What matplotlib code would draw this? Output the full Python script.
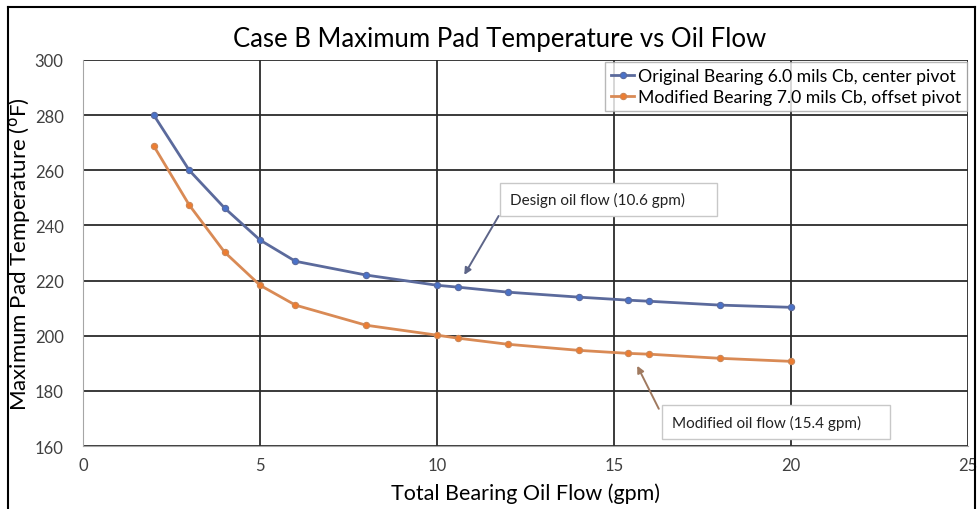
import matplotlib.pyplot as plt
from matplotlib.lines import Line2D
from matplotlib.patches import Rectangle

plt.rcParams['font.family'] = ['Lato', 'DejaVu Sans']

# oil flow (gpm)
flow = [2, 3, 4, 5, 6, 8, 10, 10.6, 12, 14, 15.4, 16, 18, 20]
# maximum pad temperature (F)
orig_temp = [280, 260, 246.3, 234.7, 227, 222, 218.3, 217.6, 215.8, 214, 212.9, 212.5, 211.1, 210.3]
mod_temp = [268.8, 247.4, 230.3, 218.3, 211.1, 203.8, 200.2, 199.1, 196.9, 194.7, 193.6, 193.3, 191.8, 190.7]

labels = ['Original Bearing 6.0 mils Cb, center pivot',
          'Modified Bearing 7.0 mils Cb, offset pivot']

fig = plt.figure(figsize=(9.78, 5.10), dpi=100)
ax = fig.add_axes([0.0849, 0.1235, 0.9049, 0.7569])

ax.plot(flow, orig_temp, color='#5b6a9c', lw=2, marker='o', ms=4.5,
        mfc='#4a72c8', mec='#5b6a9c', mew=0.8, label=labels[0])
ax.plot(flow, mod_temp, color='#d98a55', lw=2, marker='o', ms=4.5,
        mfc='#ed7d31', mec='#c9885a', mew=0.8, label=labels[1])

ax.set_xlim(0, 25)
ax.set_ylim(160, 300)
ax.set_xticks(range(0, 26, 5))
ax.set_yticks(range(160, 301, 20))
ax.grid(True, color='#2b2b2b', lw=1.3)
ax.set_axisbelow(True)
for s in ['top', 'right']:
    ax.spines[s].set_visible(False)
for s in ['left', 'bottom']:
    ax.spines[s].set_color('#a6a6a6')
ax.tick_params(axis='y', length=0, labelsize=12, colors='#404040', pad=14)
ax.tick_params(axis='x', length=0, labelsize=12, colors='#404040', pad=8)

ax.set_title('Case B Maximum Pad Temperature vs Oil Flow', fontsize=18.5, pad=10, x=0.471)
ax.set_xlabel('Total Bearing Oil Flow (gpm)', fontsize=15.5, labelpad=7)
ax.set_ylabel('Maximum Pad Temperature ($^{\\mathrm{o}}$F)', fontsize=16)
ax.yaxis.set_label_coords(-0.056, 0.5)

leg = ax.legend(loc='upper right', bbox_to_anchor=(1.003, 1.005), fontsize=12.7,
                frameon=True, fancybox=False, borderpad=0.35, handlelength=1.3,
                handletextpad=0.2, labelspacing=0.3, borderaxespad=0.2)
leg.get_frame().set_edgecolor('#a6a6a6')
leg.get_frame().set_linewidth(1)

# callout boxes
ax.add_patch(Rectangle((11.78, 243.4), 6.13, 12.0, fc='white', ec='#c8c8c8', lw=1, zorder=4))
ax.text(12.06, 249.5, 'Design oil flow (10.6 gpm)', fontsize=11, color='#222222',
        va='center', ha='left', zorder=5)
ax.annotate('', xy=(10.73, 221.2), xytext=(11.78, 244.3),
            arrowprops=dict(arrowstyle='-|>', color='#5d6588', lw=1.4, mutation_scale=10))
ax.add_patch(Rectangle((16.36, 162.5), 6.44, 12.3, fc='white', ec='#c8c8c8', lw=1, zorder=4))
ax.text(16.64, 168.6, 'Modified oil flow (15.4 gpm)', fontsize=11, color='#222222',
        va='center', ha='left', zorder=5)
ax.annotate('', xy=(15.62, 190.0), xytext=(16.3, 172.6),
            arrowprops=dict(arrowstyle='-|>', color='#a07a60', lw=1.4, mutation_scale=10))

# outer frame of the chart area
for xs, ys in [([0.008, 0.008], [0, 0.985]), ([0.008, 0.997], [0.985, 0.985]),
               ([0.997, 0.997], [0, 0.985])]:
    fig.add_artist(Line2D(xs, ys, color='black', lw=1.5, transform=fig.transFigure))

fig.savefig('out.png', dpi=100)
